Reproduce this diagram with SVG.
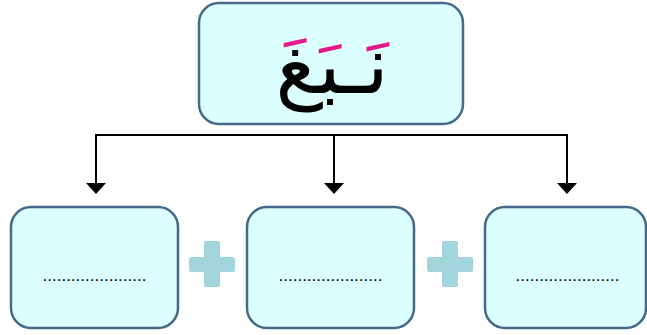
<svg xmlns="http://www.w3.org/2000/svg" width="647" height="335" viewBox="0 0 647 335">
<defs>
<pattern id="arfill" patternUnits="userSpaceOnUse" x="0" y="0" width="1000" height="1000">
<rect width="1000" height="1000" fill="#000"/>
<polygon fill="#e6198c" points="286,38 314,38 314,56 303,56 303,54 293.5,54 293.5,57 286,57"/>
<rect fill="#e6198c" x="315" y="42" width="32" height="20"/>
<polygon fill="#e6198c" points="361,42 391,42 391,56 381,56 381,57.5 371,57.5 371,60 361,60"/>
</pattern>
</defs>
<style>
.box{fill:#dcffff;stroke:#436a89;stroke-width:2.5}
.conn{fill:none;stroke:#000;stroke-width:2}
.head{fill:#000}
.plus{fill:#a1d5db}
.dots{font-family:"Liberation Sans",Arial,sans-serif;font-size:17px;fill:#000;text-anchor:middle}
.ar{font-family:"DejaVu Sans","Noto Sans",sans-serif;font-size:76px;fill:url(#arfill);text-anchor:middle}
</style>
<rect width="647" height="335" fill="#fff"/>
<g id="root">
<rect class="box" x="199" y="3" width="264" height="121" rx="20"/>
<g transform="translate(332,93.2) scale(1.06) translate(-333,-96)">
<text class="ar" x="333" y="96" direction="rtl">نَـبَغَ</text>
</g>
</g>
<g id="connectors">
<path class="conn" d="M95 135H568M96 135V185M334 135V185M567 135V185"/>
<path class="head" d="M86 183H106L96 194Z M324 183H344L334 194Z M557 183H577L567 194Z"/>
</g>
<g id="part1">
<rect class="box" x="11" y="207" width="167" height="121" rx="20"/>
<text class="dots" x="94.5" y="281">......................</text>
</g>
<g id="plus1">
<rect class="plus" x="189" y="257" width="46" height="15" rx="2"/>
<rect class="plus" x="204" y="241" width="16" height="46" rx="2"/>
</g>
<g id="part2">
<rect class="box" x="247" y="207" width="167" height="121" rx="20"/>
<text class="dots" x="330.5" y="281">......................</text>
</g>
<g id="plus2">
<rect class="plus" x="427" y="257" width="46" height="15" rx="2"/>
<rect class="plus" x="442" y="241" width="16" height="46" rx="2"/>
</g>
<g id="part3">
<rect class="box" x="485" y="207" width="161" height="121" rx="20"/>
<text class="dots" x="567.5" y="281">......................</text>
</g>
</svg>
